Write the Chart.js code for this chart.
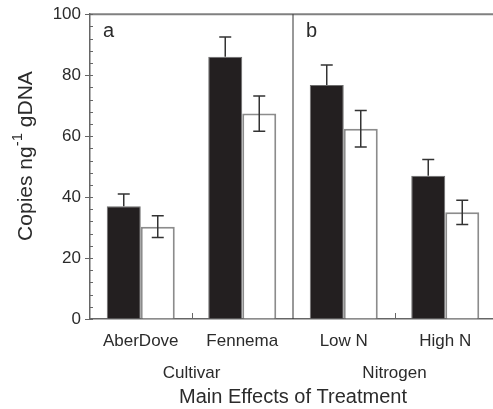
<!DOCTYPE html>
<html>
<head>
<meta charset="utf-8">
<script src="https://cdn.jsdelivr.net/npm/chart.js@4.4.1/dist/chart.umd.min.js"></script>
<style>
  body { margin: 0; background: #fff; overflow: hidden; }
  #wrap { width: 500px; height: 409px; }
</style>
</head>
<body>
<div id="wrap"><canvas id="grafica" width="500" height="409"></canvas></div>
<script>
// 1. Data
const categorias = ["AberDove", "Fennema", "Low N", "High N"];
const mediasNegras = [37, 86, 76.8, 47];
const errNegras = [4, 6.5, 6.5, 5.3];
const mediasBlancas = [30.3, 67.4, 62.4, 35];
const errBlancas = [3.6, 5.8, 6, 4];
const grupos = ["Cultivar", "Nitrogen"];
const letrasPanel = ["a", "b"];

const fuente = '"Liberation Sans", Arial, sans-serif';
const colorTexto = '#2b2b2b';

// 2. Error bars, drawn on top of the bars
// (on the black bars only the upper half shows, the rest is hidden by the fill)
const barrasError = {
    id: 'barrasError',
    afterDatasetsDraw(chart) {
        const ctx = chart.ctx;
        const y = chart.scales.y;
        const errores = [errNegras, errBlancas];
        ctx.save();
        ctx.strokeStyle = '#333';
        ctx.lineWidth = 1.5;
        chart.data.datasets.forEach((ds, i) => {
            const meta = chart.getDatasetMeta(i);
            meta.data.forEach((bar, j) => {
                const v = ds.data[j], e = errores[i][j];
                const yt = y.getPixelForValue(v + e);
                const yb = i === 0 ? y.getPixelForValue(v) : y.getPixelForValue(v - e);
                ctx.beginPath();
                ctx.moveTo(bar.x, yt); ctx.lineTo(bar.x, yb);
                ctx.moveTo(bar.x - 6, yt); ctx.lineTo(bar.x + 6, yt);
                if (i === 1) { ctx.moveTo(bar.x - 6, yb); ctx.lineTo(bar.x + 6, yb); }
                ctx.stroke();
            });
        });
        ctx.restore();
    }
};

// 3. Frame, minor ticks, panel letters and group labels
const decoracion = {
    id: 'decoracion',
    afterDraw(chart) {
        const ctx = chart.ctx;
        const area = chart.chartArea;
        const x = chart.scales.x, y = chart.scales.y;
        ctx.save();

        // top line
        ctx.strokeStyle = '#808080';
        ctx.lineWidth = 2;
        ctx.beginPath();
        ctx.moveTo(area.left, area.top); ctx.lineTo(chart.width, area.top);
        ctx.stroke();

        // divider between panels
        const xDiv = (x.getPixelForValue(1) + x.getPixelForValue(2)) / 2;
        ctx.strokeStyle = '#333';
        ctx.lineWidth = 1;
        ctx.beginPath();
        ctx.moveTo(xDiv, area.top); ctx.lineTo(xDiv, area.bottom);
        ctx.stroke();

        // minor ticks on y, pointing inward
        ctx.strokeStyle = '#666';
        ctx.beginPath();
        for (let v = 0; v <= 100; v += 4) {
            const py = Math.round(y.getPixelForValue(v)) + 0.5;
            ctx.moveTo(area.left, py); ctx.lineTo(area.left + 3, py);
        }
        // small ticks between categories of the same group
        [[0, 1], [2, 3]].forEach(([a, b]) => {
            const px = Math.round((x.getPixelForValue(a) + x.getPixelForValue(b)) / 2) + 0.5;
            ctx.moveTo(px, area.bottom); ctx.lineTo(px, area.bottom - 6);
        });
        ctx.stroke();

        // panel letters
        ctx.fillStyle = colorTexto;
        ctx.font = '20px ' + fuente;
        ctx.textBaseline = 'middle';
        ctx.textAlign = 'left';
        ctx.fillText(letrasPanel[0], area.left + 13, area.top + 17);
        ctx.fillText(letrasPanel[1], xDiv + 13, area.top + 17);

        // group labels under the category names
        ctx.font = '17px ' + fuente;
        ctx.textAlign = 'center';
        ctx.fillText(grupos[0], (x.getPixelForValue(0) + x.getPixelForValue(1)) / 2, 373);
        ctx.fillText(grupos[1], (x.getPixelForValue(2) + x.getPixelForValue(3)) / 2, 373);

        // y title with superscript
        const partes = [
            { t: 'Copies ng', f: '21px ' + fuente, dy: 0 },
            { t: '-1', f: '15px ' + fuente, dy: -8 },
            { t: ' gDNA', f: '21px ' + fuente, dy: 0 }
        ];
        let total = 0;
        partes.forEach(p => { ctx.font = p.f; p.w = ctx.measureText(p.t).width; total += p.w; });
        ctx.translate(26, 156);
        ctx.rotate(-Math.PI / 2);
        ctx.textAlign = 'left';
        ctx.textBaseline = 'middle';
        let pos = -total / 2;
        partes.forEach(p => {
            ctx.font = p.f;
            ctx.fillText(p.t, pos, p.dy);
            pos += p.w;
        });
        ctx.restore();
    }
};

// 4. The chart
const ctx = document.getElementById('grafica').getContext('2d');
new Chart(ctx, {
    type: 'bar',
    data: {
        labels: categorias,
        datasets: [{
            data: mediasNegras,
            backgroundColor: '#231f20',
            borderColor: '#6e6e6e',
            borderWidth: 1,
            barPercentage: 1,
            categoryPercentage: 0.67
        }, {
            data: mediasBlancas,
            backgroundColor: '#ffffff',
            borderColor: '#8c8c8c',
            borderWidth: 2,
            barPercentage: 1,
            categoryPercentage: 0.67
        }]
    },
    options: {
        responsive: false,
        animation: false,
        devicePixelRatio: 1,
        layout: { padding: { top: 14, right: 4, left: 0, bottom: 0 } },
        plugins: { legend: { display: false }, tooltip: { enabled: false } },
        scales: {
            x: {
                grid: { display: false },
                border: { display: true, color: '#666', width: 1.5 },
                ticks: { font: { size: 17, family: fuente }, color: colorTexto, padding: 4 },
                title: {
                    display: true,
                    text: 'Main Effects of Treatment',
                    font: { size: 20, family: fuente },
                    color: colorTexto,
                    padding: 0
                },
                afterFit(scale) { scale.height = 90; }
            },
            y: {
                min: 0,
                max: 100,
                ticks: { stepSize: 20, font: { size: 17, family: fuente }, color: colorTexto, padding: 4 },
                grid: { drawOnChartArea: false, tickLength: 5, color: '#666' },
                border: { display: true, color: '#666', width: 1.5 },
                afterFit(scale) { scale.width = 90; }
            }
        }
    },
    plugins: [barrasError, decoracion]
});
</script>
</body>
</html>
